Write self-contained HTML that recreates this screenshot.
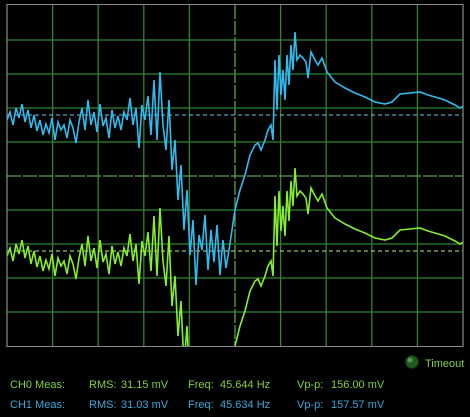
<!DOCTYPE html>
<html><head><meta charset="utf-8"><style>
body{margin:0;background:#000;width:470px;height:417px;overflow:hidden;font-family:"Liberation Sans",sans-serif}
svg{position:absolute;left:0;top:0}
</style></head><body>
<svg width="470" height="417">
<g id="grid"></g>
<defs><clipPath id="clip"><rect x="7" y="5" width="456" height="341"/></clipPath></defs>
<g id="traces" clip-path="url(#clip)"></g>
<rect x="7" y="4.5" width="456" height="342" fill="none" stroke="#8a8a8a" stroke-width="1"/>
<circle cx="412" cy="362" r="6.5" fill="#1f5a1f" stroke="#0c2a0c"/>
<circle cx="410" cy="360" r="2.5" fill="#4f9a4f"/>
<text x="425" y="367" fill="#7fd23a" font-size="11">Timeout</text>
<g font-size="11" fill="#7fd23a">
<text x="10" y="388">CH0 Meas:</text>
<text x="89" y="388">RMS:</text>
<text x="121" y="388">31.15 mV</text>
<text x="188" y="388">Freq:</text>
<text x="220" y="388">45.644 Hz</text>
<text x="297" y="388">Vp-p:</text>
<text x="331" y="388">156.00 mV</text>
</g>
<g font-size="11" fill="#3aa8dc">
<text x="10" y="408">CH1 Meas:</text>
<text x="89" y="408">RMS:</text>
<text x="121" y="408">31.03 mV</text>
<text x="188" y="408">Freq:</text>
<text x="220" y="408">45.634 Hz</text>
<text x="297" y="408">Vp-p:</text>
<text x="331" y="408">157.57 mV</text>
</g>
</svg>
<script>
const times=[0,3,6,9,12,15,18,21,24,27,30,33,36,39,42,45,48,51,54,57,60,63,66,69,72,75,78,81,84,87,90,93,96,99,102,105,108,111,114,117,120,123,126,129,132,135,138,141,144,147,150,153,156,159,162,165,168,171,174,177,180,183,186,189,192,195,198,201,204,207,210,213,216,219,222,225,
228,233,238,243,248,251,254,258,261,264,266,
268,270,272,274,276,278,280,282,284,286,288,290,
293,296,299,301,304,307,311,315,320,328,338,348,358,368,378,385,393,403,413,421,428,438,448,453,456];
const ch0=[58,66,53,70,60,74,56,68,50,63,47,58,43,54,45,60,38,56,48,53,40,58,50,35,56,70,48,78,53,66,46,74,52,60,40,68,50,62,48,66,58,80,53,70,30,73,58,82,43,98,38,106,53,28,78,8,38,-22,13,-52,-12,-77,-42,-107,-57,-72,-37,-92,-52,-84,-47,-97,-62,-90,-72,-52,
-32,-12,3,23,33,35,28,38,48,53,38,
118,68,123,83,108,78,123,93,133,108,146,118,
123,120,116,100,126,120,113,120,106,96,90,85,81,76,74,76,84,85,86,83,81,78,73,70,72];
const ch1=[-78,-70,-83,-66,-76,-62,-80,-68,-86,-73,-89,-78,-93,-82,-91,-76,-98,-80,-88,-83,-96,-78,-86,-101,-80,-66,-88,-58,-83,-70,-90,-62,-84,-76,-96,-68,-86,-74,-88,-70,-78,-56,-83,-66,-106,-63,-78,-54,-93,-38,-98,-30,-83,-108,-58,-128,-98,-158,-123,-188,-148,-213,-178,-243,-193,-208,-173,-228,-188,-220,-183,-233,-198,-226,-208,-188,
-168,-148,-133,-113,-103,-101,-108,-98,-88,-83,-98,
-18,-68,-13,-53,-28,-58,-13,-43,-3,-28,10,-18,
-13,-16,-20,-36,-10,-16,-23,-16,-30,-40,-46,-51,-55,-60,-62,-60,-52,-51,-50,-53,-55,-58,-63,-66,-64];
const ch0Ref=63, ch1Ref=-73;
const NS='http://www.w3.org/2000/svg';
const X0=7,W=456,TMAX=456,YC=178,PX=1;
function xs(t){return X0+t*W/TMAX;}
function ys(v){return YC-v*PX;}
const grid=document.getElementById('grid');
for(let i=0;i<=10;i++){
  const x=X0+i*45.6;
  const l=document.createElementNS(NS,'line');
  l.setAttribute('x1',x);l.setAttribute('x2',x);l.setAttribute('y1',5);l.setAttribute('y2',346);
  l.setAttribute('stroke',i==5?'#5fa04a':'#2f852f');l.setAttribute('stroke-width',1.3);
  if(i==5)l.setAttribute('stroke-dasharray','14 2');
  
  
  grid.appendChild(l);
}
for(let i=1;i<10;i++){
  const y=6+i*34;
  const l=document.createElementNS(NS,'line');
  l.setAttribute('x1',X0);l.setAttribute('x2',X0+W);l.setAttribute('y1',y);l.setAttribute('y2',y);
  l.setAttribute('stroke',i==5?'#5fa04a':'#2f852f');l.setAttribute('stroke-width',1.3);
  if(i==5)l.setAttribute('stroke-dasharray','14 2');
  
  
  grid.appendChild(l);
}
const tr=document.getElementById('traces');
function ref(v,c,name){
  const l=document.createElementNS(NS,'line');
  l.setAttribute('x1',X0);l.setAttribute('x2',X0+W);l.setAttribute('y1',ys(v));l.setAttribute('y2',ys(v));
  l.setAttribute('stroke',c);l.setAttribute('stroke-dasharray','4 3');
  
  
  tr.appendChild(l);
}
ref(ch0Ref,'#6cc6ee','ch0-reference-line');
ref(ch1Ref,'#b8f08a','ch1-reference-line');
function trace(vals,c,name){
  const p=document.createElementNS(NS,'polyline');
  p.setAttribute('points',vals.map((v,i)=>xs(times[i]).toFixed(1)+','+ys(v).toFixed(1)).join(' '));
  p.setAttribute('fill','none');p.setAttribute('stroke',c);p.setAttribute('stroke-width',1.6);
  
  
  tr.appendChild(p);
}
trace(ch0,'#2fbcef','ch0-trace');
trace(ch1,'#84f02c','ch1-trace');
</script>
</body></html>
